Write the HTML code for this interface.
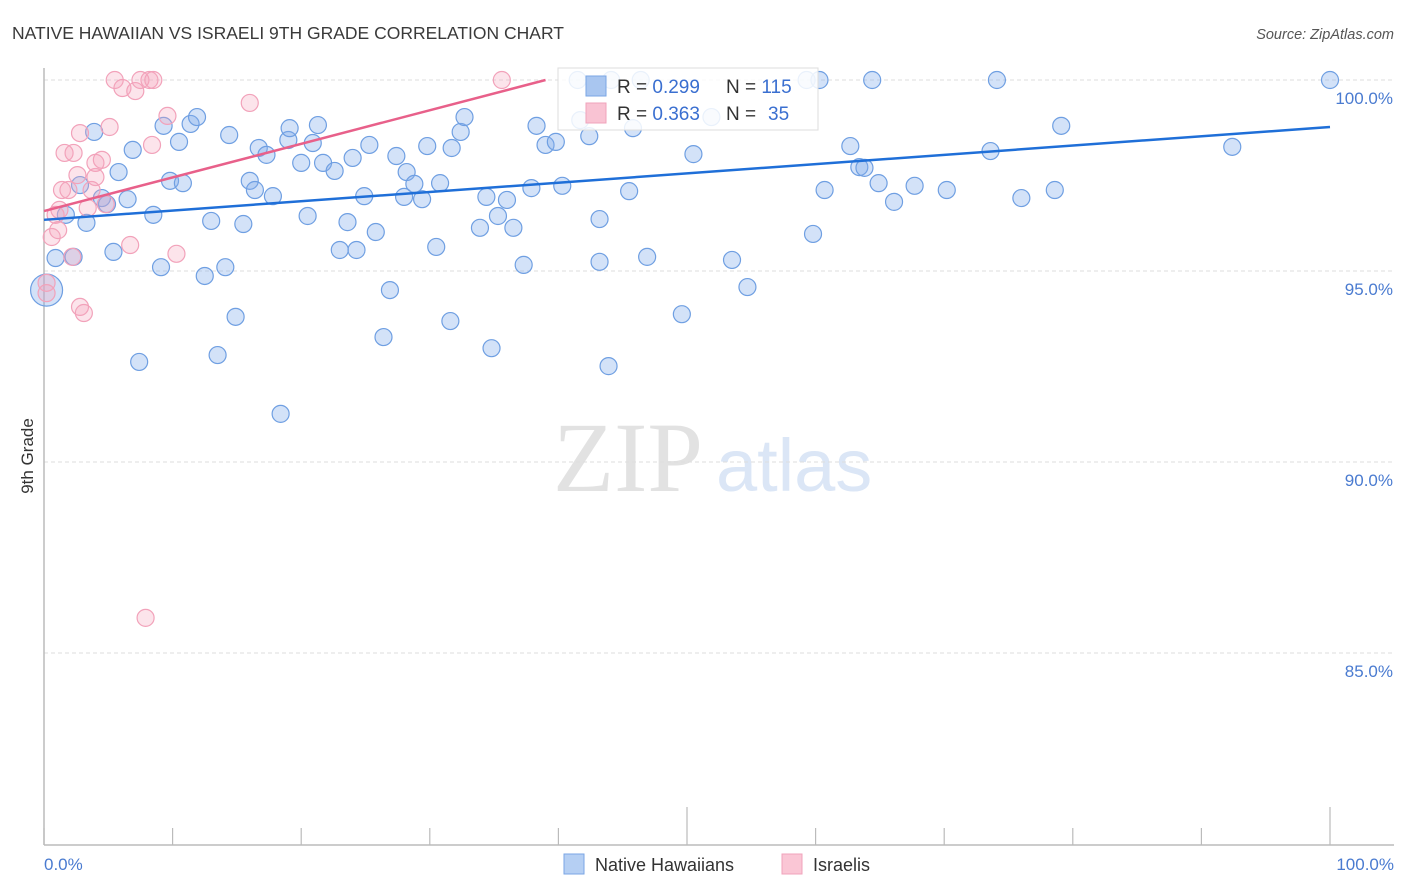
<!DOCTYPE html>
<html><head><meta charset="utf-8">
<style>
body{margin:0;background:#fff;}
svg{display:block;font-family:"Liberation Sans",sans-serif;}
</style></head>
<body>
<svg id="chart" width="1406" height="892" viewBox="0 0 1406 892" xmlns="http://www.w3.org/2000/svg">
  <text x="12" y="39" font-size="17.5" fill="#3a3a3a">NATIVE HAWAIIAN VS ISRAELI 9TH GRADE CORRELATION CHART</text>
  <text x="1394" y="39" font-size="14.5" fill="#555" font-style="italic" text-anchor="end">Source: ZipAtlas.com</text>
  <g>
    <text x="553" y="491" font-family="Liberation Serif, serif" font-size="100" fill="#e2e2e2">ZIP</text>
    <text x="716" y="491" font-size="74" fill="#dbe6f6">atlas</text>
  </g>
  <g id="grid"></g>
  <g id="yticks"></g>
  <text transform="translate(33,456) rotate(-90)" font-size="17" fill="#333" text-anchor="middle">9th Grade</text>
  <line x1="44" y1="68" x2="44" y2="845" stroke="#bbb" stroke-width="1.5"/>
  <line x1="44" y1="845" x2="1394" y2="845" stroke="#bbb" stroke-width="1.5"/>
  <g id="xticks"></g>
  <text x="44" y="870" font-size="17" fill="#4a7bd0">0.0%</text>
  <text x="1394" y="870" font-size="17" fill="#4a7bd0" text-anchor="end">100.0%</text>
  <g id="pts-blue"></g>
  <g id="pts-pink"></g>
  <g id="trends"></g>
  <g>
    <rect x="558" y="68" width="260" height="62" fill="#fff" fill-opacity="0.85" stroke="#ddd"/>
    <rect x="586" y="76" width="20" height="20" fill="#a9c6f0" stroke="#7aa6e4"/>
    <rect x="586" y="103" width="20" height="20" fill="#f9c3d3" stroke="#f0a3bb"/>
    <text x="617" y="93" font-size="19" fill="#333">R = <tspan fill="#3a6fd0">0.299</tspan><tspan x="726">N = </tspan><tspan fill="#3a6fd0">115</tspan></text>
    <text x="617" y="120" font-size="19" fill="#333">R = <tspan fill="#3a6fd0">0.363</tspan><tspan x="726">N = </tspan><tspan x="768" fill="#3a6fd0">35</tspan></text>
  </g>
  <g>
    <rect x="564" y="854" width="20" height="20" fill="#b5cff3" stroke="#7aa6e4"/>
    <text x="595" y="871" font-size="18" fill="#333">Native Hawaiians</text>
    <rect x="782" y="854" width="20" height="20" fill="#fac6d5" stroke="#f0a3bb"/>
    <text x="813" y="871" font-size="18" fill="#333">Israelis</text>
  </g>
</svg>
<script>
const yTickValues=[100,95,90,85];
const yTickLabels=["100.0%","95.0%","90.0%","85.0%"];
const xTickValues=[0,10,20,30,40,50,60,70,80,90,100];
const blueX=[0.9,0.2,1.7,2.3,2.8,3.3,3.9,4.5,4.9,5.4,5.8,6.5,6.9,7.4,8.5,9.1,9.3,9.8,10.8,10.5,11.4,11.9,12.5,13.0,13.5,14.1,14.4,14.9,15.5,16.0,16.4,16.7,17.3,17.8,18.4,19.0,19.1,20.0,20.5,20.9,21.3,21.7,22.6,23.0,23.6,24.0,24.3,24.9,25.3,25.8,26.4,26.9,27.4,28.0,28.2,28.8,29.4,29.8,30.5,30.8,31.6,31.7,32.4,32.7,33.9,34.4,34.8,35.3,36.0,36.5,37.3,37.9,38.3,39.0,39.8,40.3,41.5,41.7,42.4,43.2,43.2,43.9,44.1,45.5,45.8,46.4,46.9,49.6,50.5,51.9,53.5,54.7,59.3,59.8,60.3,60.7,62.7,63.4,63.8,64.4,64.9,66.1,67.7,70.2,73.6,74.1,76.0,78.6,79.1,92.4,100];
const blueY=[95.34,94.5,96.47,95.37,97.25,96.26,98.64,96.91,96.75,95.5,97.59,96.88,98.17,92.62,96.47,95.1,98.8,97.36,97.3,98.38,98.85,99.03,94.87,96.31,92.8,95.1,98.56,93.8,96.23,97.36,97.12,98.22,98.04,96.96,91.26,98.43,98.74,97.83,96.44,98.35,98.82,97.83,97.62,95.55,96.28,97.96,95.55,96.96,98.3,96.02,93.27,94.5,98.01,96.94,97.59,97.28,96.88,98.27,95.63,97.3,93.69,98.22,98.64,99.03,96.13,96.94,92.98,96.44,96.86,96.13,95.16,97.17,98.8,98.3,98.38,97.23,100,98.95,98.53,96.36,95.24,92.51,100,97.09,98.74,100,95.37,93.87,98.06,99.03,95.29,94.58,100,95.97,100,97.12,98.27,97.72,97.7,100,97.3,96.81,97.23,97.12,98.14,100,96.91,97.12,98.8,98.25,100];
const blueSize=[1,2.1];
const pinkX=[0.2,0.2,0.6,0.9,1.1,1.4,1.6,1.9,2.2,2.3,2.6,2.8,2.8,3.1,3.4,3.7,4.0,4.0,4.5,4.8,5.1,5.5,6.1,6.7,7.1,7.5,8.2,8.5,8.4,9.6,10.3,7.9,16.0,35.6,1.2];
const pinkY=[94.69,94.42,95.89,96.47,96.07,97.12,98.09,97.12,95.37,98.09,97.51,98.61,94.06,93.9,96.65,97.12,97.46,97.83,97.91,96.75,98.77,100,99.79,95.68,99.71,100,100,100,98.3,99.06,95.45,85.92,99.4,100,96.6];
const blueTrend=[[0,96.34],[100,98.77]];
const pinkTrend=[[0,96.57],[39,100]];

const NS="http://www.w3.org/2000/svg";
const X0=44,X1=1330,Y100=80,PX_PER_PCT=38.2;
function sx(v){return X0+(X1-X0)*v/100;}
function sy(v){return Y100+(100-v)*PX_PER_PCT;}
function mk(tag,attrs,parent){const e=document.createElementNS(NS,tag);for(const k in attrs)e.setAttribute(k,attrs[k]);parent.appendChild(e);return e;}

const grid=document.getElementById('grid'),yt=document.getElementById('yticks');
yTickValues.forEach((v,i)=>{
  const l=mk('line',{x1:X0,x2:1394,y1:sy(v),y2:sy(v),stroke:'#ddd','stroke-dasharray':'4,3'},grid);
  
  
  const t=mk('text',{x:1393,y:sy(v)+24,'font-size':17,fill:'#4a7bd0','text-anchor':'end'},yt);
  t.textContent=yTickLabels[i];
  
  
});
const xt=document.getElementById('xticks');
xTickValues.forEach(v=>{
  const long=(v===50||v===100);
  const l=mk('line',{x1:sx(v),x2:sx(v),y1:long?807:828,y2:845,stroke:'#bbb','stroke-width':1.2},xt);
  
  
});
const gb=document.getElementById('pts-blue');
blueX.forEach((v,i)=>{
  const r=(i===1)?16:8.5;
  const c=mk('circle',{cx:sx(v),cy:sy(blueY[i]),r:r,fill:'rgba(130,172,235,0.35)',stroke:'#6f9fe2','stroke-width':1.2},gb);
  
  
});
const gp=document.getElementById('pts-pink');
pinkX.forEach((v,i)=>{
  const c=mk('circle',{cx:sx(v),cy:sy(pinkY[i]),r:8.5,fill:'rgba(246,165,190,0.3)',stroke:'#f2a2ba','stroke-width':1.2},gp);
  
  
});
const tr=document.getElementById('trends');
const bl=mk('line',{x1:sx(blueTrend[0][0]),y1:sy(blueTrend[0][1]),x2:sx(blueTrend[1][0]),y2:sy(blueTrend[1][1]),stroke:'#1f6fd8','stroke-width':2.5},tr);


const pl=mk('line',{x1:sx(pinkTrend[0][0]),y1:sy(pinkTrend[0][1]),x2:sx(pinkTrend[1][0]),y2:sy(pinkTrend[1][1]),stroke:'#e8608a','stroke-width':2.5},tr);


</script>
</body></html>
